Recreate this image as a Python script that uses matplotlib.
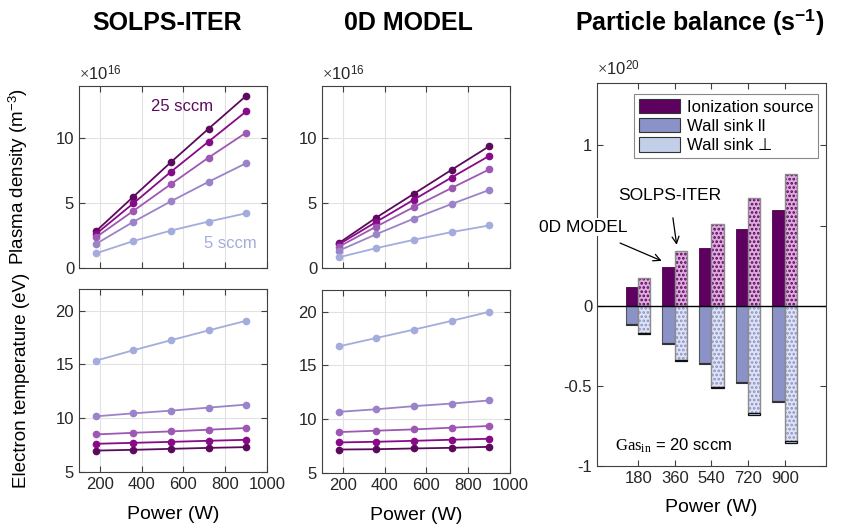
import matplotlib
matplotlib.use('Agg')
import matplotlib.pyplot as plt
import numpy as np
from matplotlib.patches import Patch

plt.rcParams['font.family'] = ['Liberation Sans', 'DejaVu Sans']
plt.rcParams['mathtext.fontset'] = 'custom'
plt.rcParams['mathtext.rm'] = 'Liberation Serif'
plt.rcParams['mathtext.it'] = 'Liberation Serif:italic'
plt.rcParams['axes.unicode_minus'] = False
plt.rcParams['hatch.linewidth'] = 1.3

# gas puff series, darkest = 25 sccm
gas = ['25 sccm', '20 sccm', '15 sccm', '10 sccm', '5 sccm']
colors = ['#5c0a5c', '#880a88', '#9d58b3', '#9a83c8', '#a3acdc']
power = [180, 360, 540, 720, 900]

# plasma density (1e16 m^-3)
ne_solps = [[2.81, 5.48, 8.14, 10.71, 13.24],
            [2.60, 4.97, 7.40, 9.72, 12.04],
            [2.35, 4.39, 6.45, 8.49, 10.41],
            [1.84, 3.55, 5.13, 6.63, 8.06],
            [1.12, 2.07, 2.88, 3.57, 4.21]]
ne_0d = [[1.91, 3.88, 5.71, 7.55, 9.36],
         [1.81, 3.55, 5.26, 6.96, 8.62],
         [1.63, 3.19, 4.69, 6.15, 7.58],
         [1.33, 2.60, 3.80, 4.92, 6.00],
         [0.82, 1.53, 2.17, 2.76, 3.27]]

# electron temperature (eV)
te_solps = [[6.99, 7.06, 7.15, 7.24, 7.31],
            [7.62, 7.71, 7.80, 7.90, 7.99],
            [8.49, 8.64, 8.77, 8.93, 9.08],
            [10.17, 10.45, 10.70, 10.98, 11.26],
            [15.34, 16.31, 17.24, 18.15, 19.05]]
te_0d = [[7.18, 7.21, 7.28, 7.34, 7.43],
         [7.84, 7.90, 7.99, 8.09, 8.18],
         [8.80, 8.93, 9.05, 9.21, 9.37],
         [10.68, 10.92, 11.21, 11.45, 11.74],
         [16.76, 17.54, 18.32, 19.13, 19.97]]

# particle balance at 20 sccm (1e20 s^-1)
ion_0d = [0.120, 0.242, 0.360, 0.481, 0.598]
par_0d = [0.117, 0.234, 0.357, 0.477, 0.594]
perp_0d = [0.006, 0.006, 0.006, 0.006, 0.006]
ion_solps = [0.171, 0.342, 0.510, 0.675, 0.823]
par_solps = [0.167, 0.336, 0.505, 0.671, 0.846]
perp_solps = [0.008, 0.008, 0.008, 0.008, 0.008]

c_ion, c_ion_lt = '#5e0060', '#dcaedc'
c_par, c_par_lt = '#8a92c8', '#dfe3f3'
c_perp = '#c3cfe9'
axcol = '#404040'

W, H = 854, 529
fig = plt.figure(figsize=(W / 100, H / 100), dpi=100)


def px_axes(x0, y0, x1, y1):
    return fig.add_axes([x0 / W, 1 - y1 / H, (x1 - x0) / W, (y1 - y0) / H])


def style(ax):
    for s in ax.spines.values():
        s.set_color(axcol)
        s.set_linewidth(0.8)
    ax.tick_params(direction='in', length=4, width=0.8, color=axcol,
                   labelsize=12, labelcolor='#262626',
                   top=True, right=True)


def line_panel(ax, data, ylim, yticks, show_x):
    ax.grid(True, color='#e2e2e2', lw=0.8)
    ax.set_axisbelow(True)
    for row, c in zip(data, colors):
        ax.plot(power, row, '-o', color=c, lw=1.3, ms=4.5, mec=c, mfc=c)
    ax.set_xlim(100, 1000)
    ax.set_xticks([200, 400, 600, 800, 1000])
    ax.set_ylim(*ylim)
    ax.set_yticks(yticks)
    if not show_x:
        ax.set_xticklabels([])
    style(ax)


ax1 = px_axes(79, 86, 267, 268)
line_panel(ax1, ne_solps, (0, 14), [0, 5, 10], False)
ax2 = px_axes(79, 289, 267, 472)
line_panel(ax2, te_solps, (5, 22), [5, 10, 15, 20], True)
ax3 = px_axes(322, 86, 510, 268)
line_panel(ax3, ne_0d, (0, 14), [0, 5, 10], False)
ax4 = px_axes(322, 290, 510, 473)
line_panel(ax4, te_0d, (5, 22), [5, 10, 15, 20], True)

for ax in (ax1, ax3):
    ax.text(0, 1.012, r'$\times$10$^{\mathdefault{16}}$', transform=ax.transAxes,
            fontsize=12, color='#262626', va='bottom', ha='left')

ax1.text(444, 12.4, gas[0], color=colors[0], fontsize=12, va='center')
ax1.text(698, 1.85, gas[-1], color=colors[-1], fontsize=12, va='center')

ax1.set_ylabel(r'Plasma density (m$^{\mathdefault{-3}}$)', fontsize=13.5)
ax1.yaxis.set_label_coords(-0.26, 0.5)
ax2.set_ylabel('Electron temperature (eV)', fontsize=13.5)
ax2.yaxis.set_label_coords(-0.26, 0.5)
for ax in (ax2, ax4):
    ax.set_xlabel('Power (W)', fontsize=14)
    ax.xaxis.set_label_coords(0.5, -0.185)

# particle balance bars
ax5 = px_axes(597, 83, 826, 466)
x = np.arange(1, len(power) + 1)
ax5.bar(x, ion_0d, width=-0.34, align='edge', color=c_ion, edgecolor='#4a004a', lw=0.6)
ax5.bar(x, [-v for v in par_0d], width=-0.34, align='edge', color=c_par,
        edgecolor='#555555', lw=0.8)
ax5.bar(x, [-v for v in perp_0d], bottom=[-v for v in par_0d], width=-0.34,
        align='edge', color=c_perp, edgecolor='#333333', lw=0.8)

ax5.bar(x, ion_solps, width=0.33, align='edge', color=c_ion_lt, edgecolor=c_ion,
        hatch='....', lw=0)
ax5.bar(x, ion_solps, width=0.33, align='edge', fill=False, edgecolor='#8c8c8c', lw=1.0)
ax5.bar(x, [-v for v in par_solps], width=0.33, align='edge', color=c_par_lt,
        edgecolor=c_par, hatch='....', lw=0)
ax5.bar(x, [-v for v in par_solps], width=0.33, align='edge', fill=False,
        edgecolor='#8c8c8c', lw=1.0)
ax5.bar(x, [-v for v in perp_solps], bottom=[-v for v in par_solps], width=0.33,
        align='edge', color=c_perp, edgecolor='#111111', lw=0.9)

ax5.axhline(0, color='black', lw=1.0)
ax5.set_xlim(-0.125, 6.125)
ax5.set_ylim(-1, 1.39)
ax5.set_xticks(x)
ax5.set_xticklabels([str(p) for p in power])
ax5.set_yticks([-1, -0.5, 0, 0.5, 1])
# the 0.5 label sits under the "0D MODEL" callout
ax5.set_yticklabels(['-1', '-0.5', '0', '', '1'])
style(ax5)
ax5.set_xlabel('Power (W)', fontsize=14)
ax5.xaxis.set_label_coords(0.5, -0.085)
ax5.text(0, 1.012, r'$\times$10$^{\mathdefault{20}}$', transform=ax5.transAxes,
         fontsize=12, color='#262626', va='bottom', ha='left')

handles = [Patch(facecolor=c_ion, edgecolor='#333333', lw=0.8),
           Patch(facecolor=c_par, edgecolor='#333333', lw=0.8),
           Patch(facecolor=c_perp, edgecolor='#333333', lw=0.8)]
leg = ax5.legend(handles, ['Ionization source', 'Wall sink ll', 'Wall sink \u22a5'],
                 loc='upper right', bbox_to_anchor=(0.967, 0.972), borderaxespad=0,
                 fontsize=12, handlelength=2.5, handleheight=0.95,
                 labelspacing=0.2, handletextpad=0.4, borderpad=0.3,
                 fancybox=False, framealpha=1, edgecolor='#888888')
leg.get_frame().set_linewidth(0.8)

ax5.annotate('SOLPS-ITER', xy=(2.05, 0.38), xytext=(1.86, 0.69),
             fontsize=12.5, ha='center', va='center', annotation_clip=False,
             arrowprops=dict(arrowstyle='->', color='black', lw=0.9,
                             shrinkA=9, shrinkB=0))
ax5.annotate('0D MODEL', xy=(1.64, 0.28), xytext=(-0.5, 0.49),
             fontsize=12.5, ha='center', va='center', annotation_clip=False,
             bbox=dict(boxstyle='square,pad=0.1', fc='white', ec='none'),
             arrowprops=dict(arrowstyle='->', color='black', lw=0.9,
                             shrinkA=12, shrinkB=0), zorder=5)
ax5.text(0.36, -0.875, r'$\mathrm{Gas_{in}}$ = 20 sccm', fontsize=12, va='center')

# panel titles
fig.text(167 / W, 1 - 30 / H, 'SOLPS-ITER', fontsize=18, fontweight='bold',
         ha='center', va='baseline')
fig.text(408 / W, 1 - 30 / H, '0D MODEL', fontsize=18, fontweight='bold',
         ha='center', va='baseline')
fig.text(700 / W, 1 - 30 / H, r'Particle balance (s$^{\mathdefault{-1}}$)', fontsize=18,
         fontweight='bold', ha='center', va='baseline')

fig.savefig('out.png', dpi=100)
